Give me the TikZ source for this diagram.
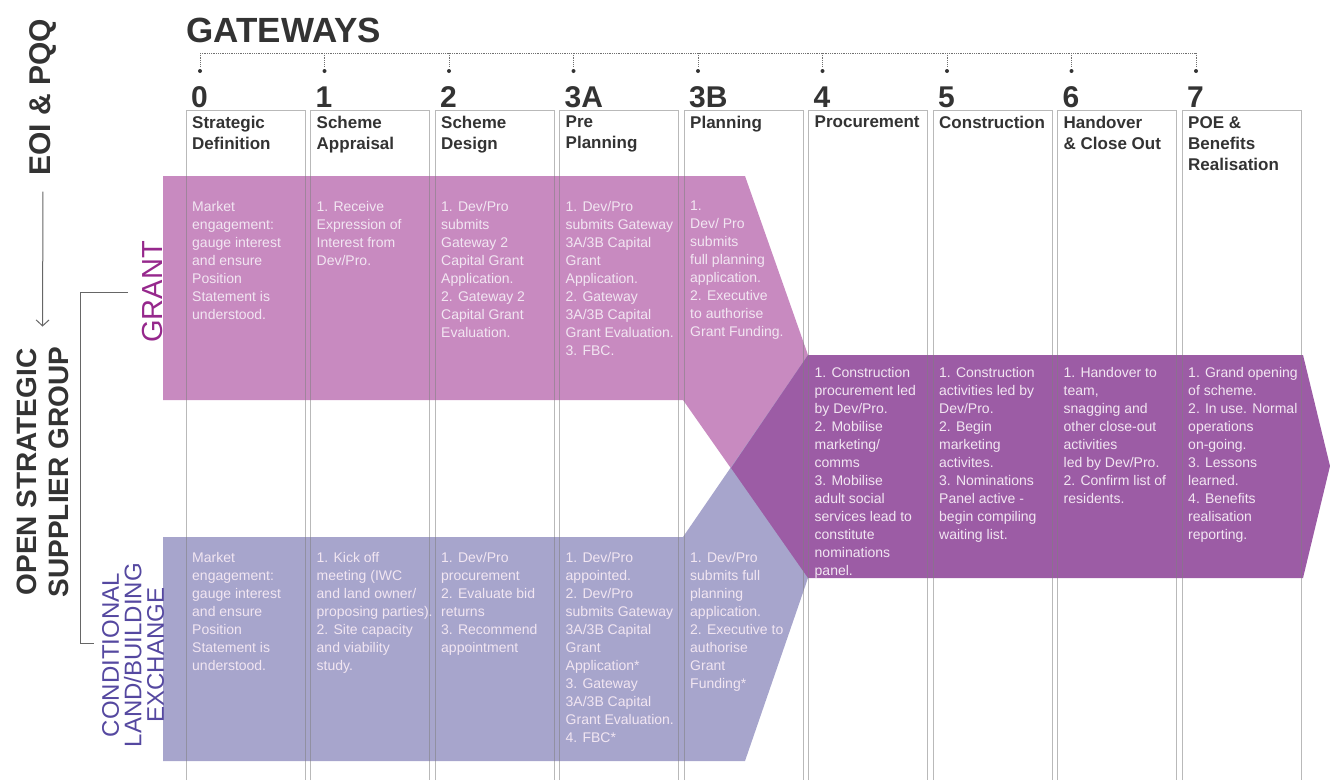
\documentclass[tikz,border=0pt]{standalone}
\usepackage{fontspec}
\setmainfont{Liberation Sans}
\usetikzlibrary{arrows.meta}

\definecolor{grantpink}{RGB}{200,138,192}
\definecolor{exchblue}{RGB}{167,165,204}
\definecolor{darkband}{RGB}{156,92,165}
\definecolor{bandtext}{RGB}{242,230,242}
\definecolor{headgray}{RGB}{51,51,51}
\definecolor{grantlabel}{RGB}{150,40,140}
\definecolor{exchlabel}{RGB}{85,72,160}

\tikzset{
  colbox/.style={draw=black!50,opacity=0.55,line width=0.9pt},
  gatedots/.style={draw=headgray!70,densely dotted,line width=0.8pt},
  gatenum/.style={anchor=base west,inner sep=0pt,font=\fontsize{30}{30}\selectfont\bfseries,text=headgray},
  gatetitle/.style={anchor=north west,inner sep=0pt,align=left,font=\fontsize{17}{21}\selectfont\bfseries,text=headgray},
  stagetext/.style={anchor=north west,inner sep=0pt,align=left,font=\fontsize{14}{18}\selectfont,text=bandtext},
  sidelabel/.style={rotate=90,inner sep=0pt,align=center},
  sideline/.style={draw=black!60,line width=1pt}
}

\begin{document}
\begin{tikzpicture}[x=1pt,y=-1pt]
    \useasboundingbox (0,0) rectangle (1330,780);

    \node[anchor=base west,inner sep=0pt,font=\fontsize{35}{35}\selectfont\bfseries,text=headgray] (gateways) at (186.5,42) {GATEWAYS};
    \draw[gatedots] (200,53) -- (1196,53);

    % bands
    \fill[grantpink] (163,176) -- (745,176) -- (808,355) -- (808,578) -- (683,400) -- (163,400) -- cycle;
    \fill[exchblue] (163,537) -- (683,537) -- (808,355) -- (808,578) -- (745,761) -- (163,761) -- cycle;
    \fill[darkband] (731,468) -- (808,355) -- (1303,355) -- (1330,466) -- (1303,578) -- (808,578) -- cycle;

    % gateway columns
    \foreach \i/\num/\ttl in {0/0/{Strategic\\Definition},1/1/{Scheme\\Appraisal},2/2/{Scheme\\Design},
        3/3A/{Pre\\Planning},4/3B/Planning,5/4/Procurement,6/5/Construction,
        7/6/{Handover\\\& Close Out},8/7/{POE \&\\Benefits\\Realisation}}{
        \pgfmathsetmacro\cx{186+124.5*\i}
        \draw[colbox] (\cx,780) -- (\cx,110) -- (\cx+119,110) -- (\cx+119,780);
        \draw[gatedots] (\cx+14,53) -- (\cx+14,66);
        \fill[headgray] (\cx+14,71) circle (2pt);
        \node[gatenum] (num\i) at (\cx+5,107) {\num};
        \node[gatetitle] (ttl\i) at (\cx+6,116) {\ttl};
    }

    % grant
    \node[stagetext] (gr0) at (192,201) {Market\\engagement:\\gauge interest\\and ensure\\Position\\Statement is\\understood.};
    \node[stagetext] (gr1) at (316.5,201) {1. Receive\\Expression of\\Interest from\\Dev/Pro.};
    \node[stagetext] (gr2) at (441,201) {1. Dev/Pro\\submits\\Gateway 2\\Capital Grant\\Application.\\2. Gateway 2\\Capital Grant\\Evaluation.};
    \node[stagetext] (gr3) at (565.5,201) {1. Dev/Pro\\submits Gateway\\3A/3B Capital\\Grant\\Application.\\2. Gateway\\3A/3B Capital\\Grant Evaluation.\\3. FBC.};
    \node[stagetext] (gr4) at (690,201) {1.\\Dev/ Pro\\submits\\full planning\\application.\\2. Executive\\to authorise\\Grant Funding.};

    % delivery
    \node[stagetext] (dk5) at (814.5,367) {1. Construction\\procurement led\\by Dev/Pro.\\2. Mobilise\\marketing/\\comms\\3. Mobilise\\adult social\\services lead to\\constitute\\nominations\\panel.};
    \node[stagetext] (dk6) at (939,367) {1. Construction\\activities led by\\Dev/Pro.\\2. Begin\\marketing\\activites.\\3. Nominations\\Panel active -\\begin compiling\\waiting list.};
    \node[stagetext] (dk7) at (1063.5,367) {1. Handover to\\team,\\snagging and\\other close-out\\activities\\led by Dev/Pro.\\2. Confirm list of\\residents.};
    \node[stagetext] (dk8) at (1188,367) {1. Grand opening\\of scheme.\\2. In use. Normal\\operations\\on-going.\\3. Lessons\\learned.\\4. Benefits\\realisation\\reporting.};

    % land exchange
    \node[stagetext] (ex0) at (192,552) {Market\\engagement:\\gauge interest\\and ensure\\Position\\Statement is\\understood.};
    \node[stagetext] (ex1) at (316.5,552) {1. Kick off\\meeting (IWC\\and land owner/\\proposing parties).\\2. Site capacity\\and viability\\study.};
    \node[stagetext] (ex2) at (441,552) {1. Dev/Pro\\procurement\\2. Evaluate bid\\returns\\3. Recommend\\appointment};
    \node[stagetext] (ex3) at (565.5,552) {1. Dev/Pro\\appointed.\\2. Dev/Pro\\submits Gateway\\3A/3B Capital\\Grant\\Application*\\3. Gateway\\3A/3B Capital\\Grant Evaluation.\\4. FBC*};
    \node[stagetext] (ex4) at (690,552) {1. Dev/Pro\\submits full\\planning\\application.\\2. Executive to\\authorise\\Grant\\Funding*};

    % side labels
    \node[sidelabel,font=\fontsize{30}{32}\selectfont\bfseries,text=headgray] (eoi) at (43,97) {EOI \& PQQ};
    \node[sidelabel,font=\fontsize{28}{32}\selectfont\bfseries,text=headgray] (osg) at (42.5,472) {OPEN STRATEGIC\\SUPPLIER GROUP};
    \node[sidelabel,font=\fontsize{29}{29}\selectfont,text=grantlabel] (grant) at (152.5,292) {GRANT};
    \node[sidelabel,font=\fontsize{24}{22.5}\selectfont,text=exchlabel] (cond) at (133,655) {CONDITIONAL\\LAND/BUILDING\\EXCHANGE};

    \draw[sideline,-{Straight Barb[length=6pt,width=13pt]},shorten <=16pt,shorten >=20pt] (eoi.west) -- (osg.east);
    \draw[sideline] ([xshift=-14pt]grant.north) -- ++(-48,0) |- ([xshift=-8pt,yshift=12pt]cond.north);
\end{tikzpicture}
\end{document}
